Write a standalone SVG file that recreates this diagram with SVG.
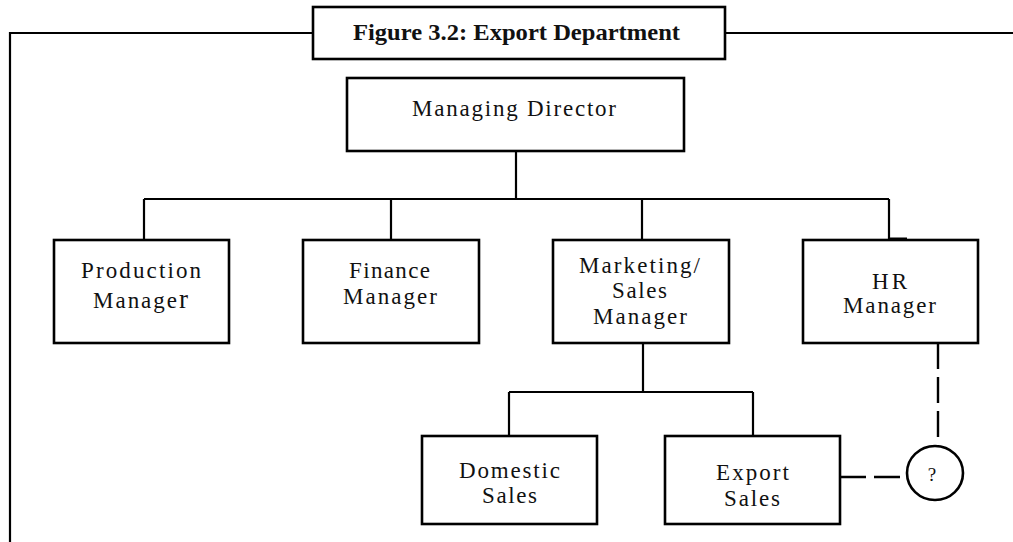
<svg xmlns="http://www.w3.org/2000/svg" width="1013" height="542" viewBox="0 0 1013 542">
<style>
.box{fill:#fff;stroke:#000;stroke-width:2.6}
.ln{fill:none;stroke:#000;stroke-width:2.2}
.dash{fill:none;stroke:#000;stroke-width:2.4;stroke-dasharray:26 8}
.t{font-family:"Liberation Serif","Times New Roman",serif;font-size:23px;fill:#111;text-anchor:middle}
.title{font-family:"Liberation Serif","Times New Roman",serif;font-size:24px;font-weight:bold;fill:#111;text-anchor:middle}
</style>
<rect width="1013" height="542" fill="#fff"/>
<g id="frame">
<path class="ln" d="M10,542 V33 H313 M725,33 H1013"/>
</g>
<g id="connectors">
<path class="ln" d="M516,148 V199 M144,199 H889 M144,199 V240 M391,199 V240 M642,199 V240 M889,199 V240 M889,238.5 H907"/>
<path class="ln" d="M643,343 V392 M509,392 H753 M509,392 V436 M753,392 V436"/>
<path class="dash" d="M938,343 V446"/>
<path class="dash" d="M840,477 H907"/>
</g>
<g id="title">
<rect class="box" x="313" y="7" width="412" height="52"/>
<text class="title" x="516.5" y="40" textLength="327" lengthAdjust="spacingAndGlyphs">Figure 3.2: Export Department</text>
</g>
<g id="managing-director">
<rect class="box" x="347" y="78" width="337" height="73"/>
<text class="t" x="514" y="116" textLength="204" lengthAdjust="spacing">Managing Director</text>
</g>
<g id="production-manager">
<rect class="box" x="54" y="240" width="175" height="103"/>
<text class="t" x="141" y="278" textLength="120" lengthAdjust="spacing">Production</text>
<text class="t" x="140.5" y="308" textLength="95" lengthAdjust="spacing">Manage<tspan font-size="27">r</tspan></text>
</g>
<g id="finance-manager">
<rect class="box" x="303" y="240" width="176" height="103"/>
<text class="t" x="389.5" y="278" textLength="81" lengthAdjust="spacing">Finance</text>
<text class="t" x="390" y="304" textLength="94" lengthAdjust="spacing">Manager</text>
</g>
<g id="marketing-sales-manager">
<rect class="box" x="553" y="240" width="176" height="103"/>
<text class="t" x="639.5" y="273" textLength="121" lengthAdjust="spacing">Marketing/</text>
<text class="t" x="639.5" y="298" textLength="55" lengthAdjust="spacing">Sales</text>
<text class="t" x="640" y="324" textLength="94" lengthAdjust="spacing">Manager</text>
</g>
<g id="hr-manager">
<rect class="box" x="803" y="240" width="175" height="103"/>
<text class="t" x="889.5" y="289" textLength="35" lengthAdjust="spacing">HR</text>
<text class="t" x="889.5" y="313" textLength="93" lengthAdjust="spacing">Manager</text>
</g>
<g id="domestic-sales">
<rect class="box" x="422" y="436" width="175" height="88"/>
<text class="t" x="509.5" y="478" textLength="101" lengthAdjust="spacing">Domestic</text>
<text class="t" x="509.5" y="503" textLength="55" lengthAdjust="spacing">Sales</text>
</g>
<g id="export-sales">
<rect class="box" x="665" y="436" width="175" height="88"/>
<text class="t" x="752.5" y="480" textLength="73" lengthAdjust="spacing">Export</text>
<text class="t" x="752" y="506" textLength="56" lengthAdjust="spacing">Sales</text>
</g>
<g id="unknown">
<ellipse class="box" cx="935" cy="473" rx="28" ry="27"/>
<text class="t" x="932" y="481" style="font-size:19px">?</text>
</g>
</svg>
